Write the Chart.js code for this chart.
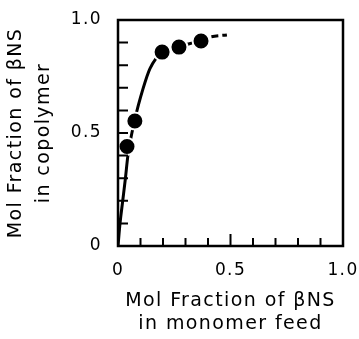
<!DOCTYPE html>
<html>
<head>
<meta charset="utf-8">
<script src="https://cdn.jsdelivr.net/npm/chart.js@4"></script>
<style>
  html, body { margin: 0; padding: 0; background: #fff; }
  #wrap { width: 359px; height: 339px; }
</style>
</head>
<body>
<div id="wrap"><canvas id="copolymerChart"></canvas></div>
<script>
// measured points: mol fraction in feed vs in copolymer
const feedFraction = [0.04, 0.075, 0.196, 0.271, 0.369];
const copolymerFraction = [0.44, 0.553, 0.858, 0.88, 0.907];

// fitted curve
const curveFeed = [0, 0.009, 0.021, 0.033, 0.044, 0.075, 0.111, 0.142, 0.196, 0.271, 0.369, 0.41, 0.484];
const curveCopolymer = [0, 0.1, 0.2, 0.3, 0.4, 0.56, 0.695, 0.785, 0.858, 0.882, 0.91, 0.925, 0.934];

const tickValues = [0, 0.5, 1.0];
const tickLabels = ['0', '0.5', '1.0'];

const FONT = "'DejaVu Sans', sans-serif";

function labelFor(value) {
    const i = tickValues.findIndex(v => Math.abs(v - value) < 1e-6);
    return i >= 0 ? tickLabels[i] : '';
}

// keep the plot box where the figure has it, labels may hang over
function noOverhang(s) {
    s.paddingLeft = s.paddingRight = s.paddingTop = s.paddingBottom = 0;
}

// the original lettering is spaced out a bit
const spacing = {
    id: 'spacing',
    beforeLayout(chart) { chart.ctx.letterSpacing = '1.4px'; },
    beforeDraw(chart) { chart.ctx.letterSpacing = '1.4px'; }
};

// box round the plot + small inward ticks every 0.1
const frameTicks = {
    id: 'frameTicks',
    afterDatasetsDraw(chart) {
        const { ctx, chartArea: a, scales: { x, y } } = chart;
        ctx.save();
        ctx.strokeStyle = '#000';
        ctx.lineWidth = 2.5;
        ctx.strokeRect(a.left, a.top, a.right - a.left, a.bottom - a.top);
        ctx.lineWidth = 2;
        ctx.beginPath();
        for (let i = 1; i < 10; i++) {
            const px = x.getPixelForValue(i / 10);
            ctx.moveTo(px, a.bottom);
            ctx.lineTo(px, a.bottom - (i === 5 ? 12 : 8));
            const py = y.getPixelForValue(i / 10);
            ctx.moveTo(a.left, py);
            ctx.lineTo(a.left + 10, py);
        }
        ctx.stroke();
        ctx.restore();
    }
};

const ctx = document.getElementById('copolymerChart').getContext('2d');
const chart = new Chart(ctx, {
    type: 'scatter',
    data: {
        datasets: [{
            type: 'scatter',
            label: 'measured',
            data: feedFraction.map((v, i) => ({ x: v, y: copolymerFraction[i] })),
            backgroundColor: '#000',
            borderColor: '#fff',
            borderWidth: 2,
            pointRadius: 8.5,
            order: 0
        },
        {
            type: 'line',
            label: 'curve',
            data: curveFeed.map((v, i) => ({ x: v, y: curveCopolymer[i] })),
            borderColor: '#000',
            borderWidth: 3,
            pointRadius: 0,
            fill: false,
            cubicInterpolationMode: 'monotone',
            segment: {
                borderDash: c => c.p0.parsed.x >= 0.36 ? [7, 4] : undefined
            },
            order: 1
        }]
    },
    options: {
        responsive: true,
        maintainAspectRatio: false,
        animation: false,
        layout: { autoPadding: false, padding: { left: 0, right: 16, top: 20, bottom: 0 } },
        plugins: {
            legend: { display: false },
            tooltip: { enabled: false }
        },
        scales: {
            x: {
                type: 'linear',
                min: 0,
                max: 1,
                afterFit: s => { s.height = 93; noOverhang(s); },
                grid: { display: false, drawTicks: false },
                border: { display: false },
                ticks: {
                    stepSize: 0.5,
                    padding: 14,
                    color: '#000',
                    maxRotation: 0,
                    font: { family: FONT, size: 17 },
                    callback: labelFor
                },
                title: {
                    display: true,
                    text: ['Mol Fraction of βNS', 'in monomer feed'],
                    color: '#000',
                    font: { family: FONT, size: 19, lineHeight: 1.24 },
                    padding: { top: 0, bottom: 3 }
                }
            },
            y: {
                type: 'linear',
                min: 0,
                max: 1,
                afterFit: s => { s.width = 118; noOverhang(s); },
                grid: { display: false, drawTicks: false },
                border: { display: false },
                ticks: {
                    stepSize: 0.5,
                    padding: 16,
                    color: '#000',
                    font: { family: FONT, size: 17 },
                    callback: labelFor
                },
                title: {
                    display: true,
                    text: ['Mol Fraction of βNS', 'in copolymer'],
                    color: '#000',
                    font: { family: FONT, size: 19, lineHeight: 1.49 },
                    padding: { top: 2, bottom: 0 }
                }
            }
        }
    },
    plugins: [spacing, frameTicks]
});
</script>
</body>
</html>
